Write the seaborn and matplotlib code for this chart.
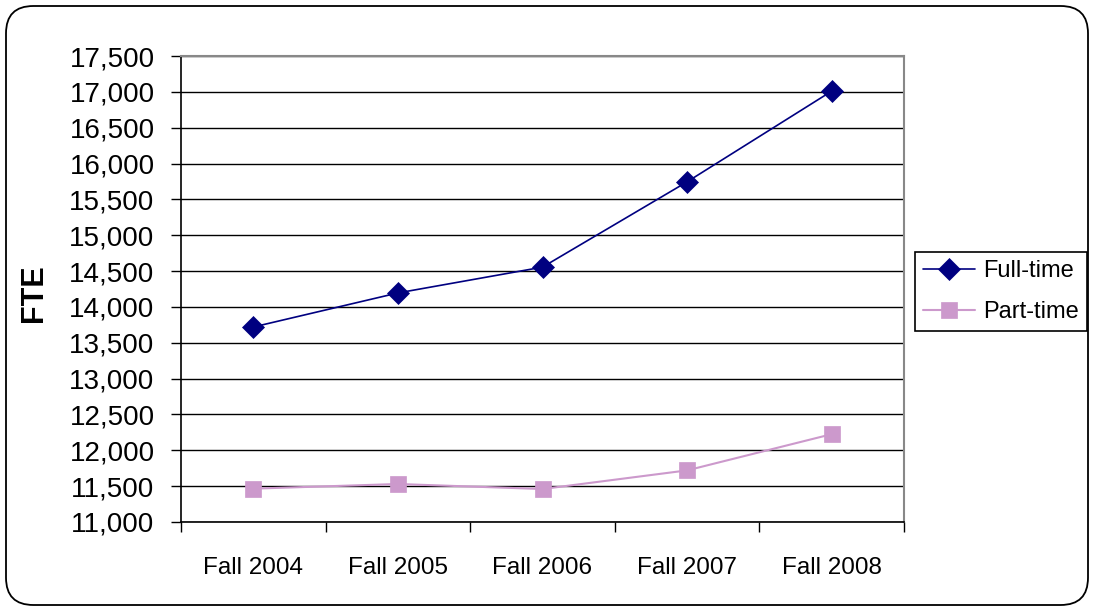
import matplotlib
matplotlib.use('Agg')
import matplotlib.pyplot as plt
from matplotlib.patches import FancyBboxPatch
from matplotlib.ticker import FuncFormatter, FixedLocator
import seaborn as sns
import pandas as pd

# data
terms = ['Fall 2004', 'Fall 2005', 'Fall 2006', 'Fall 2007', 'Fall 2008']
full_time = [13720, 14195, 14555, 15745, 17010]
part_time = [11465, 11530, 11460, 11720, 12225]
y_ticks = list(range(11000, 17501, 500))

sns.set_theme(style='white')
plt.rcParams['font.family'] = ['Liberation Sans', 'DejaVu Sans']
plt.rcParams['text.color'] = 'black'
plt.rcParams['xtick.color'] = 'black'
plt.rcParams['ytick.color'] = 'black'

df = pd.DataFrame({'pos': list(range(len(terms))), 'term': terms,
                   'Full-time': full_time, 'Part-time': part_time})

fig = plt.figure(figsize=(10.94, 6.11), dpi=100)
ax = fig.add_axes([181 / 1094, 1 - 522 / 611, 723 / 1094, 466 / 611])

sns.lineplot(data=df, x='pos', y='Full-time', ax=ax, color='#000080', lw=1.2,
             marker='D', markersize=11, markeredgewidth=0.5, markeredgecolor='#000080',
             label='Full-time')
sns.lineplot(data=df, x='pos', y='Part-time', ax=ax, color='#CC99CC', lw=1.5,
             marker='s', markersize=12, markeredgewidth=0.5, markeredgecolor='#CC99CC',
             label='Part-time')

ax.set_xlim(-0.5, len(terms) - 0.5)
ax.set_ylim(11000, 17500)
ax.set_yticks(y_ticks)
ax.yaxis.set_major_formatter(FuncFormatter(lambda v, p: f'{int(v):,}'))
ax.set_xticks(range(len(terms)))
ax.set_xticklabels(terms, fontsize=17.5)
ax.xaxis.set_minor_locator(FixedLocator([i - 0.5 for i in range(len(terms) + 1)]))
ax.tick_params(axis='x', which='major', length=0, pad=25)
ax.tick_params(axis='x', which='minor', length=7, width=1, color='black', direction='out', bottom=True)
ax.tick_params(axis='y', length=7, width=1, color='black', direction='out', left=True,
               labelsize=20, pad=12)

ax.grid(axis='y', color='black', lw=1)
ax.grid(axis='x', visible=False)
ax.set_axisbelow(True)
for s in ['left', 'bottom']:
    ax.spines[s].set_color('black')
    ax.spines[s].set_linewidth(1.2)
for s in ['top', 'right']:
    ax.spines[s].set_color('#888888')
    ax.spines[s].set_linewidth(1.5)

ax.set_xlabel('')
ax.set_ylabel('')
fig.text(34 / 1094, 1 - 293 / 611, 'FTE', rotation=90, fontsize=22,
         fontweight='bold', ha='center', va='center')

ax.legend_.remove()
h, l = ax.get_legend_handles_labels()
leg = fig.legend(h, l, loc='upper left', bbox_to_anchor=(915 / 1094, 1 - 252 / 611),
                 fontsize=17, frameon=True, fancybox=False, framealpha=1,
                 edgecolor='black', handlelength=2.2, handletextpad=0.35,
                 labelspacing=0.8, borderpad=0.35, borderaxespad=0)
leg.get_frame().set_linewidth(1.2)

# rounded outer border of the chart area
border = FancyBboxPatch((6 / 1094, 6 / 611), 1082 / 1094, 599 / 611,
                        boxstyle='round,pad=0,rounding_size=0.025',
                        transform=fig.transFigure, fill=False,
                        edgecolor='black', lw=1.3, mutation_aspect=1094 / 611)
fig.patches.append(border)

fig.savefig('out.png', dpi=100)
